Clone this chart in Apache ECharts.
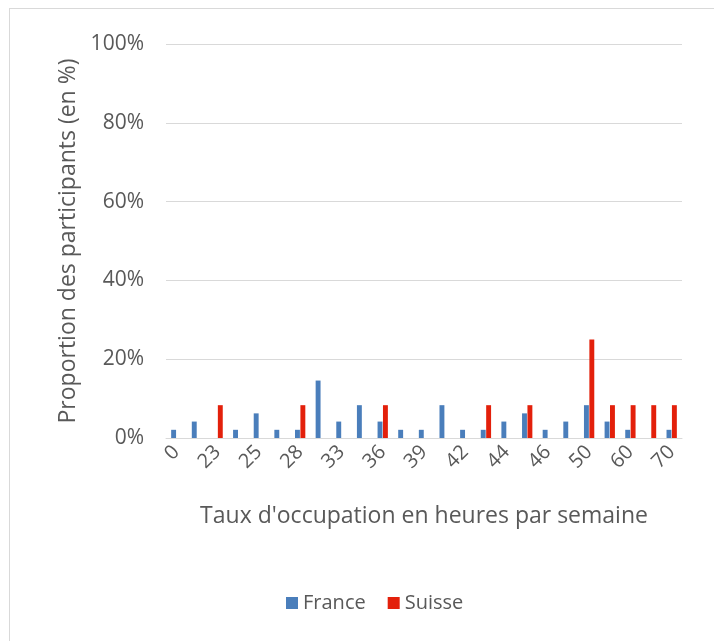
<!DOCTYPE html>
<html>
<head>
<meta charset="utf-8">
<script src="https://cdn.jsdelivr.net/npm/echarts@6/dist/echarts.min.js"></script>
<style>
html,body{margin:0;padding:0;background:#fff;overflow:hidden;}
#frame{position:absolute;left:9px;top:8px;width:720px;height:650px;border:1px solid #d9d9d9;box-sizing:border-box;}
#chart{position:absolute;left:0;top:0;width:714px;height:641px;}
</style>
</head>
<body>
<div id="frame"></div>
<div id="chart"></div>
<script>
const categories = ['0','20','23','24','25','27','28','30','33','35','36','38','39','40','42','43','44','45','46','48','50','55','60','65','70'];
const franceValues = [2.08,4.17,0,2.08,6.25,2.08,2.08,14.58,4.17,8.33,4.17,2.08,2.08,8.33,2.08,2.08,4.17,6.25,2.08,4.17,8.33,4.17,2.08,0,2.08];
const suisseValues = [0,0,8.33,0,0,0,8.33,0,0,0,8.33,0,0,0,0,8.33,0,8.33,0,0,25,8.33,8.33,8.33,8.33];
const yTicks = [0,20,40,60,80,100];

const chart = echarts.init(document.getElementById('chart'), null, {renderer:'canvas'});
const font = "'Open Sans', sans-serif";
chart.setOption({
  animation:false,
  backgroundColor:'transparent',
  textStyle:{fontFamily:font},
  grid:{left:166,right:32,top:44,bottom:203,containLabel:false},
  legend:{
    left:281, top:588,
    itemWidth:12, itemHeight:12, itemGap:22,
    icon:'rect',
    textStyle:{color:'#595959',fontSize:20,fontFamily:font},
    data:['France','Suisse']
  },
  xAxis:{
    type:'category',
    data:categories,
    axisTick:{show:false},
    axisLine:{lineStyle:{color:'#d9d9d9',width:1}},
    axisLabel:{interval:1,rotate:45,color:'#595959',fontSize:20,fontFamily:font,margin:11},
    name:"Taux d'occupation en heures par semaine",
    nameLocation:'middle',
    nameGap:67,
    nameTextStyle:{color:'#595959',fontSize:23,fontFamily:font}
  },
  yAxis:{
    type:'value',
    min:yTicks[0], max:yTicks[yTicks.length-1], interval:20,
    axisLine:{show:false},
    axisTick:{show:false},
    splitLine:{lineStyle:{color:'#d9d9d9',width:1}},
    axisLabel:{formatter:'{value}%',color:'#595959',fontSize:21,fontFamily:font,margin:22},
    name:'Proportion des participants (en %)',
    nameLocation:'middle',
    nameGap:86,
    nameTextStyle:{color:'#595959',fontSize:23,fontFamily:font}
  },
  series:[
    {name:'France',type:'bar',data:franceValues,itemStyle:{color:'#4a7ebb'},barGap:'10%',barCategoryGap:'50%'},
    {name:'Suisse',type:'bar',data:suisseValues,itemStyle:{color:'#e3200b'},barGap:'10%',barCategoryGap:'50%'}
  ]
});
</script>
</body>
</html>
